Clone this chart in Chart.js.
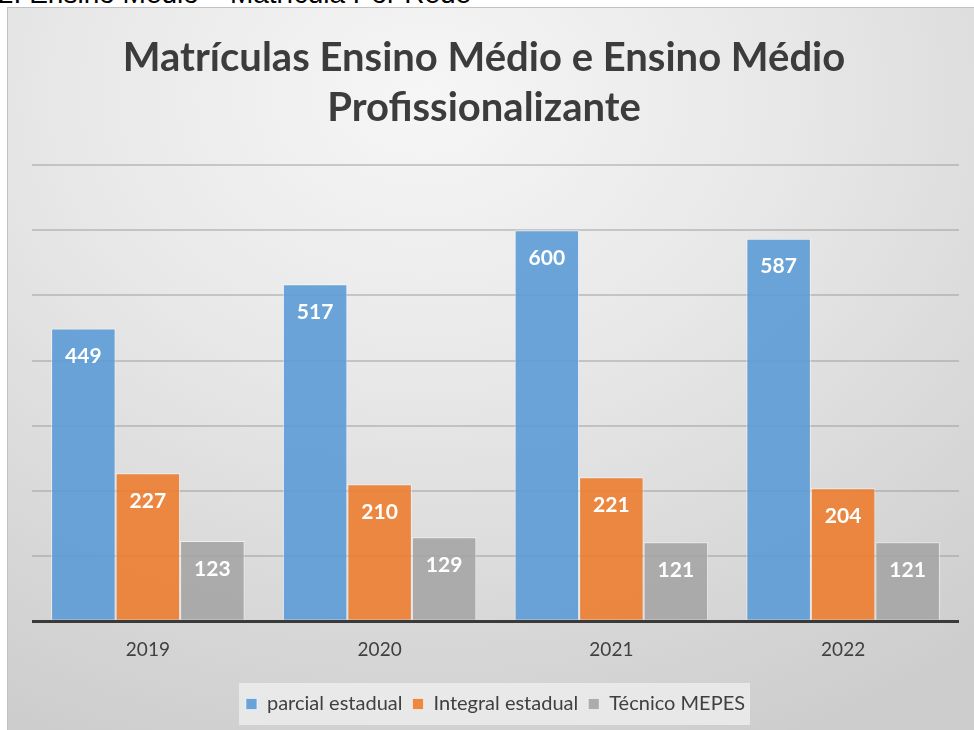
<!DOCTYPE html>
<html>
<head>
<meta charset="utf-8">
<script src="https://cdn.jsdelivr.net/npm/chart.js@4.4.0/dist/chart.umd.min.js"></script>
<style>
    body { margin: 0; background: #fff; width: 974px; height: 730px; overflow: hidden; position: relative; font-family: Arial, 'Liberation Sans', sans-serif; }
    .caption { position: absolute; left: -100px; top: -22px; font-size: 28px; line-height: 32px; color: #000; white-space: nowrap; }
    .frame {
        position: absolute; left: 7px; top: 7px; width: 990px; height: 740px;
        border-left: 1px solid #c2c2c2; border-top: 1px solid #c2c2c2;
        background: radial-gradient(ellipse 90% 95% at 42% 12%, #f6f6f6 0%, #e8e8e8 40%, #d8d8d8 75%, #cdcdcd 100%);
    }
</style>
</head>
<body>
<div class="caption">Gráfico 2. Ensino Médio – Matrícula Por Rede</div>
<div class="frame"><canvas id="chart" width="966" height="722"></canvas></div>
<script>
// ============================================
// DATA
// ============================================
const years = ['2019', '2020', '2021', '2022'];
const parcialEstadual = [449, 517, 600, 587];
const integralEstadual = [227, 210, 221, 204];
const tecnicoMepes = [123, 129, 121, 121];
const seriesNames = ['parcial estadual', 'Integral estadual', 'Técnico MEPES'];
const titleLines = ['Matrículas Ensino Médio e Ensino Médio', 'Profissionalizante'];

const FONT = 'Lato, "Open Sans", sans-serif';
const TEXT = '#404040';

// ============================================
// PLUGINS
// ============================================
const legendBox = {
    id: 'legendBox',
    beforeDraw(chart) {
        const lg = chart.legend;
        if (!lg) return;
        const ctx = chart.ctx;
        ctx.save();
        ctx.fillStyle = 'rgba(236,236,236,0.85)';
        const w = 511, h = 42;
        const cx = (chart.chartArea.left + chart.chartArea.right) / 2;
        ctx.fillRect(cx - w / 2 - 1, lg.top + lg.height / 2 - h / 2, w, h);
        ctx.restore();
    }
};

const barLabels = {
    id: 'barLabels',
    afterDatasetsDraw(chart) {
        const ctx = chart.ctx;
        ctx.save();
        ctx.fillStyle = '#ffffff';
        ctx.font = 'bold 21px ' + FONT;
        ctx.textAlign = 'center';
        ctx.textBaseline = 'middle';
        chart.data.datasets.forEach((ds, i) => {
            chart.getDatasetMeta(i).data.forEach((bar, j) => {
                ctx.fillText(String(ds.data[j]), bar.x, bar.y + 28);
            });
        });
        ctx.restore();
    }
};

// ============================================
// CHART
// ============================================
new Chart(document.getElementById('chart'), {
    type: 'bar',
    data: {
        labels: years,
        datasets: [
            { label: seriesNames[0], data: parcialEstadual, backgroundColor: 'rgba(91,155,213,0.9)' },
            { label: seriesNames[1], data: integralEstadual, backgroundColor: 'rgba(237,125,49,0.9)' },
            { label: seriesNames[2], data: tecnicoMepes, backgroundColor: 'rgba(165,165,165,0.9)' }
        ].map(d => Object.assign(d, {
            borderColor: 'rgba(255,255,255,0.55)',
            borderWidth: 1,
            categoryPercentage: 0.835,
            barPercentage: 1
        }))
    },
    options: {
        responsive: false,
        animation: false,
        layout: { padding: { left: 1, right: 15, top: 0, bottom: 6 } },
        plugins: {
            title: {
                display: true,
                text: titleLines,
                color: '#3c3c3c',
                font: { family: FONT, size: 40, weight: 'bold', lineHeight: 1.25 },
                padding: { top: 25, bottom: 32 }
            },
            legend: {
                position: 'bottom',
                fullSize: false,
                labels: {
                    color: TEXT,
                    font: { family: FONT, size: 20 },
                    boxWidth: 11,
                    boxHeight: 11,
                    padding: 10
                }
            },
            tooltip: { enabled: false }
        },
        scales: {
            x: {
                grid: { display: false },
                border: { display: false },
                ticks: { color: TEXT, font: { family: FONT, size: 19 }, padding: 9 },
                afterFit: s => { s.height += 14; }
            },
            y: {
                min: 0,
                max: 700,
                ticks: { display: false, stepSize: 100 },
                border: { display: false },
                afterFit: s => { s.width = 23; },
                grid: {
                    color: c => c.tick && c.tick.value === 0 ? '#3a3a3a' : 'rgba(150,150,150,0.45)',
                    lineWidth: c => c.tick && c.tick.value === 0 ? 3 : 2,
                    drawTicks: false
                }
            }
        }
    },
    plugins: [legendBox, barLabels]
});
</script>
</body>
</html>
